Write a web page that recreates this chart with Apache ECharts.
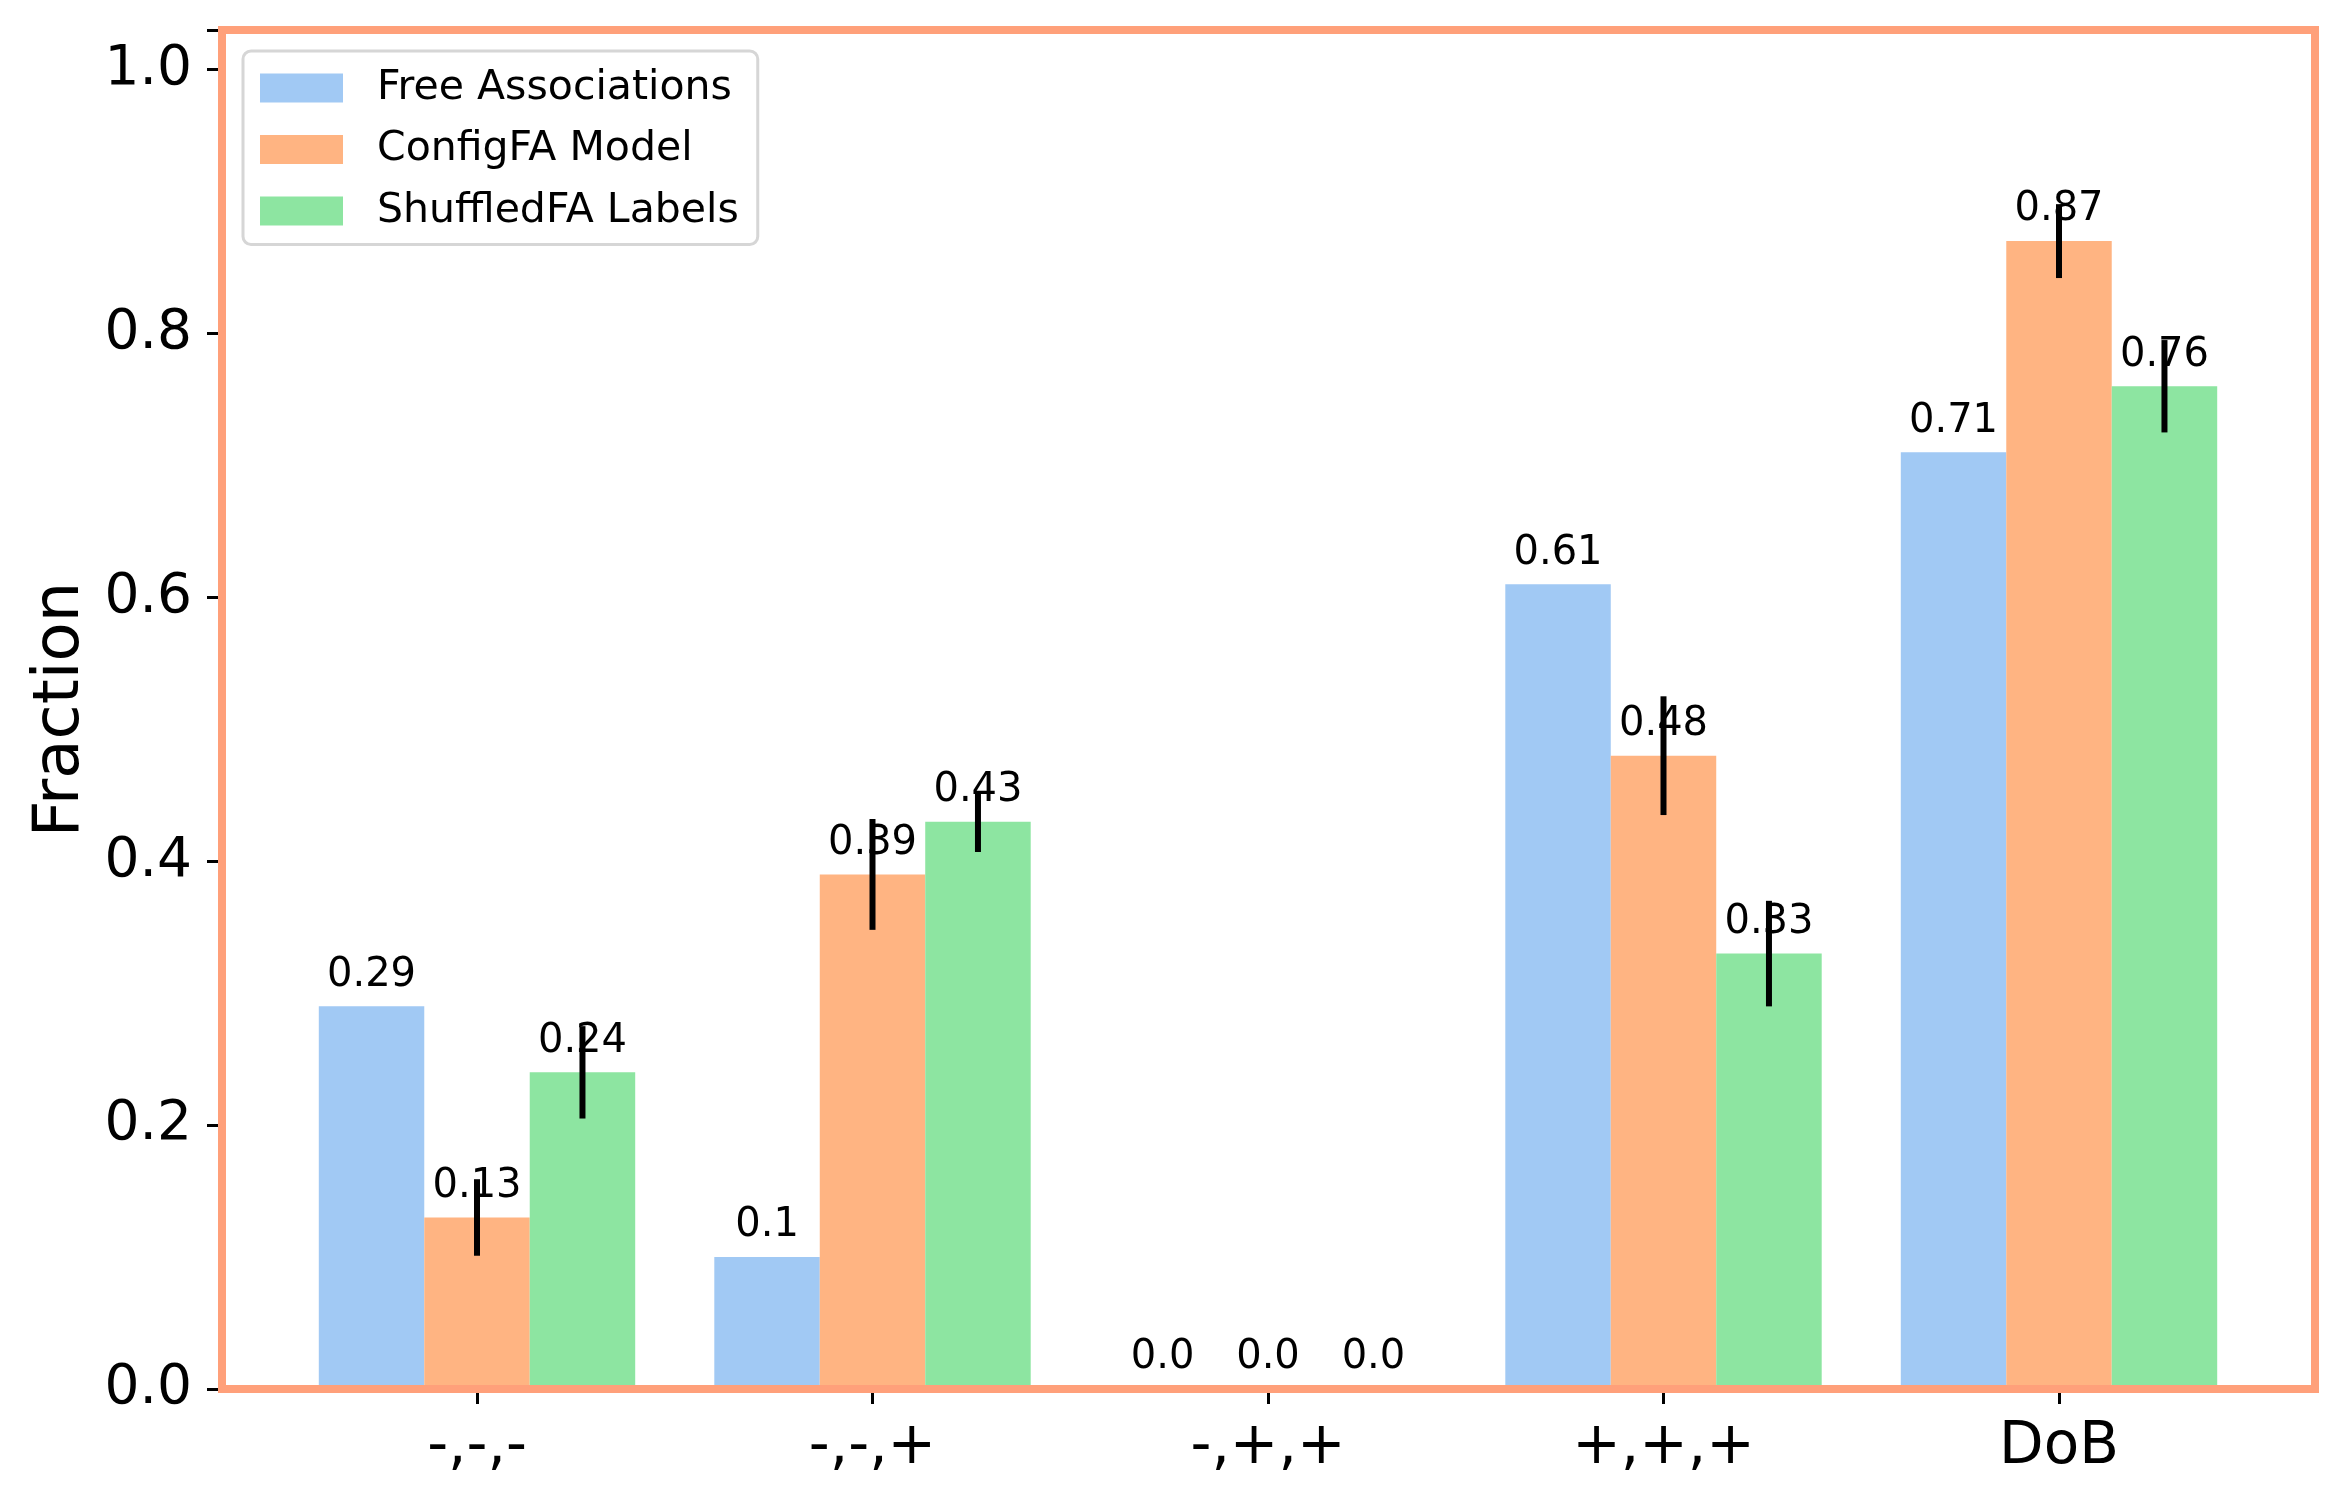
<!DOCTYPE html>
<html>
<head>
<meta charset="utf-8">
<script src="https://cdn.jsdelivr.net/npm/echarts@6/dist/echarts.min.js"></script>
<style>
html,body{margin:0;padding:0;background:#fff;}
#chart{width:2344px;height:1505px;}
</style>
</head>
<body>
<div id="chart"></div>
<script>
const categories = ['-,-,-', '-,-,+', '-,+,+', '+,+,+', 'DoB'];
const seriesNames = ['Free Associations', 'ConfigFA Model', 'ShuffledFA Labels'];
const freeAssoc = [0.29, 0.10, 0.0, 0.61, 0.71];
const configFA = [0.13, 0.39, 0.0, 0.48, 0.87];
const shuffledFA = [0.24, 0.43, 0.0, 0.33, 0.76];
const configErr = [0.029, 0.042, 0, 0.045, 0.028];
const shuffledErr = [0.035, 0.023, 0, 0.040, 0.035];
const yTicks = [0, 0.2, 0.4, 0.6, 0.8, 1.0];

const colors = ['#a1c9f4', '#ffb482', '#8de5a1'];
const FONT = 'DejaVu Sans';
const Y_MAX = 1.03;

function errData(vals, errs) {
  return vals.map((v, i) => [i, v - errs[i], v + errs[i]]);
}
function errSeries(vals, errs, slot) {
  return {
    type: 'custom',
    xAxisIndex: 1, yAxisIndex: 1,
    z: 5,
    silent: true,
    data: errData(vals, errs),
    renderItem: function (params, api) {
      const cat = api.value(0);
      const lo = api.coord([cat, api.value(1)]);
      const hi = api.coord([cat, api.value(2)]);
      const bw = api.size([1, 0])[0] * 0.8 / 3;
      const x = lo[0] + slot * bw;
      return {
        type: 'line',
        shape: { x1: x, y1: lo[1], x2: x, y2: hi[1] },
        style: { stroke: '#000', lineWidth: 6 }
      };
    }
  };
}
function barSeries(name, vals, color) {
  return {
    name: name,
    type: 'bar',
    xAxisIndex: 1, yAxisIndex: 1,
    data: vals,
    barWidth: '26.667%',
    barGap: '0%',
    itemStyle: { color: color },
    label: {
      show: true,
      position: 'top',
      distance: 11,
      formatter: p => (Number.isInteger(p.value * 10) ? p.value.toFixed(1) : String(p.value)),
      fontFamily: FONT,
      fontSize: 40,
      color: '#000'
    }
  };
}

const chart = echarts.init(document.getElementById('chart'), null, { renderer: 'canvas' });
chart.setOption({
  backgroundColor: '#fff',
  animation: false,
  color: colors,
  textStyle: { fontFamily: FONT },
  grid: [
    { left: 222, right: 29, top: 30, bottom: 116, show: true, z: 10,
      backgroundColor: 'transparent', borderColor: '#ffa07a', borderWidth: 8 },
    { left: 279.25, right: 87.25, top: 30, bottom: 116 }
  ],
  legend: {
    left: 243, top: 51,
    orient: 'vertical',
    data: seriesNames,
    itemWidth: 83, itemHeight: 29, itemGap: 20.5,
    padding: [16.5, 19, 13, 17],
    backgroundColor: 'rgba(255,255,255,0.8)',
    borderColor: '#d6d6d6', borderWidth: 3, borderRadius: 8,
    icon: 'rect',
    textStyle: { fontFamily: FONT, fontSize: 41, color: '#000', padding: [0, 0, 0, 29] },
    z: 20
  },
  xAxis: [
    { type: 'value', gridIndex: 0, min: 0, max: 1, show: false },
    { type: 'category', gridIndex: 1, data: categories,
      axisLine: { show: false },
      axisTick: { show: true, alignWithLabel: true, length: 15, lineStyle: { color: '#000', width: 3 } },
      axisLabel: { fontFamily: FONT, fontSize: 58, color: '#000', margin: 30 },
      splitLine: { show: false } }
  ],
  yAxis: [
    { type: 'value', gridIndex: 0, min: 0, max: Y_MAX, interval: 0.2,
      axisLine: { show: false },
      axisTick: { show: true, length: 15, lineStyle: { color: '#000', width: 3 } },
      axisLabel: { fontFamily: FONT, fontSize: 55, color: '#000', margin: 30,
        formatter: v => (yTicks.some(t => Math.abs(t - v) < 1e-9) ? v.toFixed(1) : '') },
      splitLine: { show: false },
      name: 'Fraction', nameLocation: 'middle', nameRotate: 90, nameGap: 125,
      nameTextStyle: { fontFamily: FONT, fontSize: 64, color: '#000' } },
    { type: 'value', gridIndex: 1, min: 0, max: Y_MAX, show: false }
  ],
  series: [
    barSeries(seriesNames[0], freeAssoc, colors[0]),
    barSeries(seriesNames[1], configFA, colors[1]),
    barSeries(seriesNames[2], shuffledFA, colors[2]),
    errSeries(configFA, configErr, 0),
    errSeries(shuffledFA, shuffledErr, 1)
  ]
});
</script>
</body>
</html>
